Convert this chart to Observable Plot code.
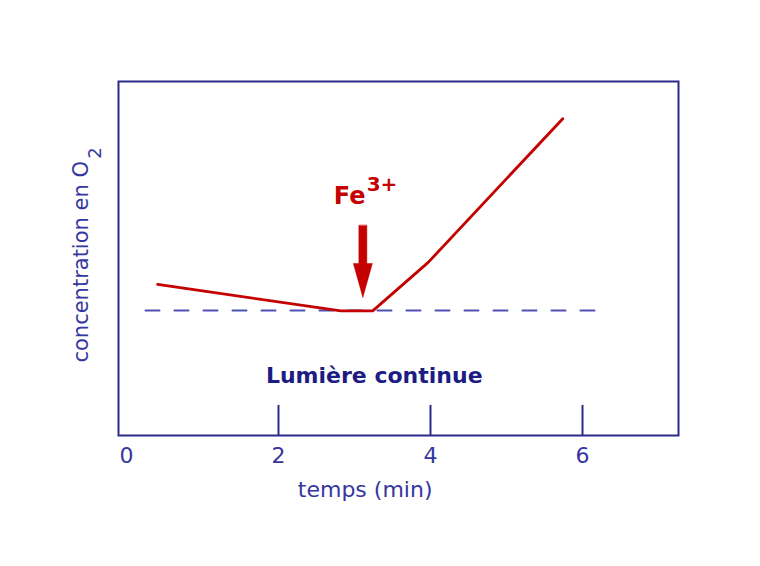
<!DOCTYPE html>
<html><head><meta charset="utf-8">
<script src="https://cdn.jsdelivr.net/npm/d3@7"></script>
<script src="https://cdn.jsdelivr.net/npm/@observablehq/plot@0.6"></script>
<style>body{margin:0;background:#fff}</style>
</head><body><div id="chart"></div>
<script>
// O2 concentration trace (arbitrary units) vs time (min)
const curveTime = [0.41, 2.82, 3.24, 3.97, 5.74];
const curveO2   = [4.27, 3.52, 3.52, 4.89, 8.95];
// dashed reference level
const baselineTime = [0.25, 6.26];
const baselineO2 = 3.53;
// x axis
const xTicks = [0, 2, 4, 6];
const xTickLabels = ["0", "2", "4", "6"];
const tickMarks = [2, 4, 6];
// Fe3+ injection
const injectionTime = 3.11;
const injectionLabel = "Fe";
const injectionCharge = "3+";
const conditionLabel = "Lumière continue";
const xLabel = "temps (min)";
const yLabel = "concentration en O";
const ySub = "2";

const curve = curveTime.map((t, i) => ({t, o2: curveO2[i]}));
const baseline = baselineTime.map(t => ({t, o2: baselineO2}));

const navy = "#2b2b8c";
const red = "#c40000";
const textBlue = "#3636a0";
const font = "DejaVu Sans, Verdana, sans-serif";

const arrowShape = {
  draw(ctx, l) {
    const sw = 4, hw = 9.5, hl = 34;
    ctx.moveTo(-sw, 0);
    ctx.lineTo(-sw, -(l - hl));
    ctx.lineTo(-hw, -(l - hl));
    ctx.lineTo(0, -l);
    ctx.lineTo(hw, -(l - hl));
    ctx.lineTo(sw, -(l - hl));
    ctx.lineTo(sw, 0);
    ctx.closePath();
  }
};

const plot = Plot.plot({
  width: 760, height: 566,
  marginLeft: 118, marginRight: 82, marginTop: 81, marginBottom: 131,
  style: {fontFamily: font, background: "#fff"},
  x: {domain: [-0.105, 7.263], axis: null},
  y: {domain: [0, 10], axis: null},
  marks: [
    Plot.line(baseline, {x: "t", y: "o2", stroke: "#5050b4", strokeWidth: 2, strokeDasharray: "14,15"}),
    Plot.ruleX(tickMarks, {y1: 0, y2: 0.85, stroke: navy, strokeWidth: 2}),
    Plot.line(curve, {x: "t", y: "o2", stroke: red, strokeWidth: 2.8, strokeLinejoin: "round"}),
    Plot.vector([injectionTime], {x: d => d, y: 3.90, length: 72, rotate: 180, anchor: "end",
      shape: arrowShape, fill: red, stroke: red, strokeWidth: 0.5}),
    Plot.text([injectionLabel], {x: 3.145, y: 6.55, text: d => d, textAnchor: "end", lineAnchor: "bottom",
      fill: red, fontSize: 24, fontWeight: "bold"}),
    Plot.text([injectionCharge], {x: 3.16, y: 6.92, text: d => d, textAnchor: "start", lineAnchor: "bottom",
      fill: red, fontSize: 20, fontWeight: "bold"}),
    Plot.text([conditionLabel], {x: 3.26, y: 1.47, text: d => d, textAnchor: "middle", lineAnchor: "bottom",
      fill: "#1c1c84", fontSize: 22, fontWeight: "bold"}),
    Plot.frame({stroke: navy, strokeWidth: 2}),
    Plot.text(xTicks, {x: d => d, y: -0.79, text: (d, i) => xTickLabels[i], textAnchor: "middle", lineAnchor: "bottom",
      fill: textBlue, fontSize: 22}),
    Plot.text([xLabel], {x: 3.14, y: -1.75, text: d => d, textAnchor: "middle", lineAnchor: "bottom",
      fill: textBlue, fontSize: 22}),
    Plot.text([yLabel], {x: -0.50, y: 2.06, text: d => d, rotate: -90, textAnchor: "start", lineAnchor: "bottom",
      fill: textBlue, fontSize: 21}),
    Plot.text([ySub], {x: -0.33, y: 7.82, text: d => d, rotate: -90, textAnchor: "start", lineAnchor: "bottom",
      fill: textBlue, fontSize: 18})
  ]
});
document.getElementById("chart").appendChild(plot);
</script>
</body></html>
